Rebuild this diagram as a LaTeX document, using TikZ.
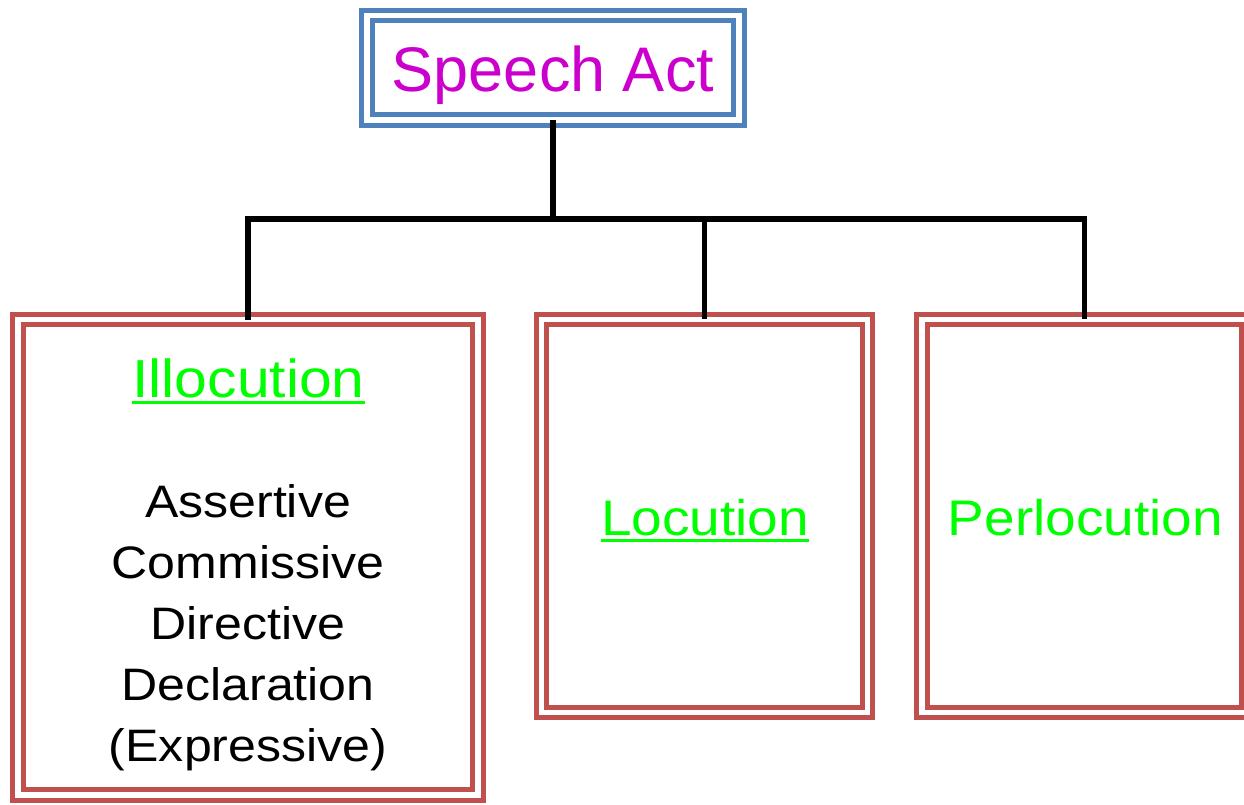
\documentclass[tikz,border=0pt]{standalone}
\usepackage{fontspec}
\setmainfont{Liberation Sans}
\newfontfamily\widefont[FakeStretch=1.1]{Liberation Sans}
\newcommand{\saul}[1]{\leavevmode\setbox0=\hbox{#1}\rlap{\vrule height -4pt depth 6.5pt width \wd0}\box0}
\definecolor{saBlue}{HTML}{4F81BD}
\definecolor{saRed}{HTML}{C0504D}
\definecolor{saMagenta}{HTML}{CC00CC}
\definecolor{saGreen}{HTML}{00FF00}
\tikzset{
  dblbox/.style={draw=#1, double=white, double distance=5.5pt, line width=5pt,
    inner sep=0pt, outer sep=0pt, rectangle},
  conn/.style={draw=black, line width=5.5pt},
  greentext/.style={text=saGreen, inner sep=0pt, anchor=base,
    font=\widefont\fontsize{50}{60}\selectfont},
  blacktext/.style={text=black, inner sep=0pt, align=center, anchor=north,
    font=\widefont\fontsize{45.5}{61}\selectfont},
}
\begin{document}
\begin{tikzpicture}[x=1pt,y=-1pt]
\useasboundingbox (0,0) rectangle (1244,804);
% boxes
\node[dblbox=saBlue, minimum width=372.25pt, minimum height=104.5pt] (sa) at (552.9,67.5) {};
\node[dblbox=saRed, minimum width=460.25pt, minimum height=475.5pt] (ill) at (247.9,557.25) {};
\node[dblbox=saRed, minimum width=326.25pt, minimum height=393.25pt] (loc) at (704.6,516.1) {};
\node[dblbox=saRed, minimum width=325pt, minimum height=393.25pt] (per) at (1084.5,516.1) {};
% texts
\node[text=saMagenta, inner sep=0pt, anchor=base, font=\fontsize{63}{75}\selectfont] (satext) at (553,91) {Speech Act};
\node[greentext, font=\widefont\fontsize{53.5}{60}\selectfont] (illtext) at (248.5,397) {\saul{Illocution}};
\node[blacktext] (illlist) at (248,484.5) {Assertive\\Commissive\\Directive\\Declaration\\(Expressive)};
\node[greentext] (loctext) at (705,535) {\saul{Locution}};
\node[greentext] (pertext) at (1085.5,535) {Perlocution};
% connectors
\coordinate (bus) at (553,219);
\draw[conn] (sa.south) -- (sa.south |- bus);
\draw[conn] (ill.north) -- (ill.north |- bus) -- (per.north |- bus) -- (per.north);
\draw[conn] (loc.north) -- (loc.north |- bus);
\end{tikzpicture}
\end{document}
